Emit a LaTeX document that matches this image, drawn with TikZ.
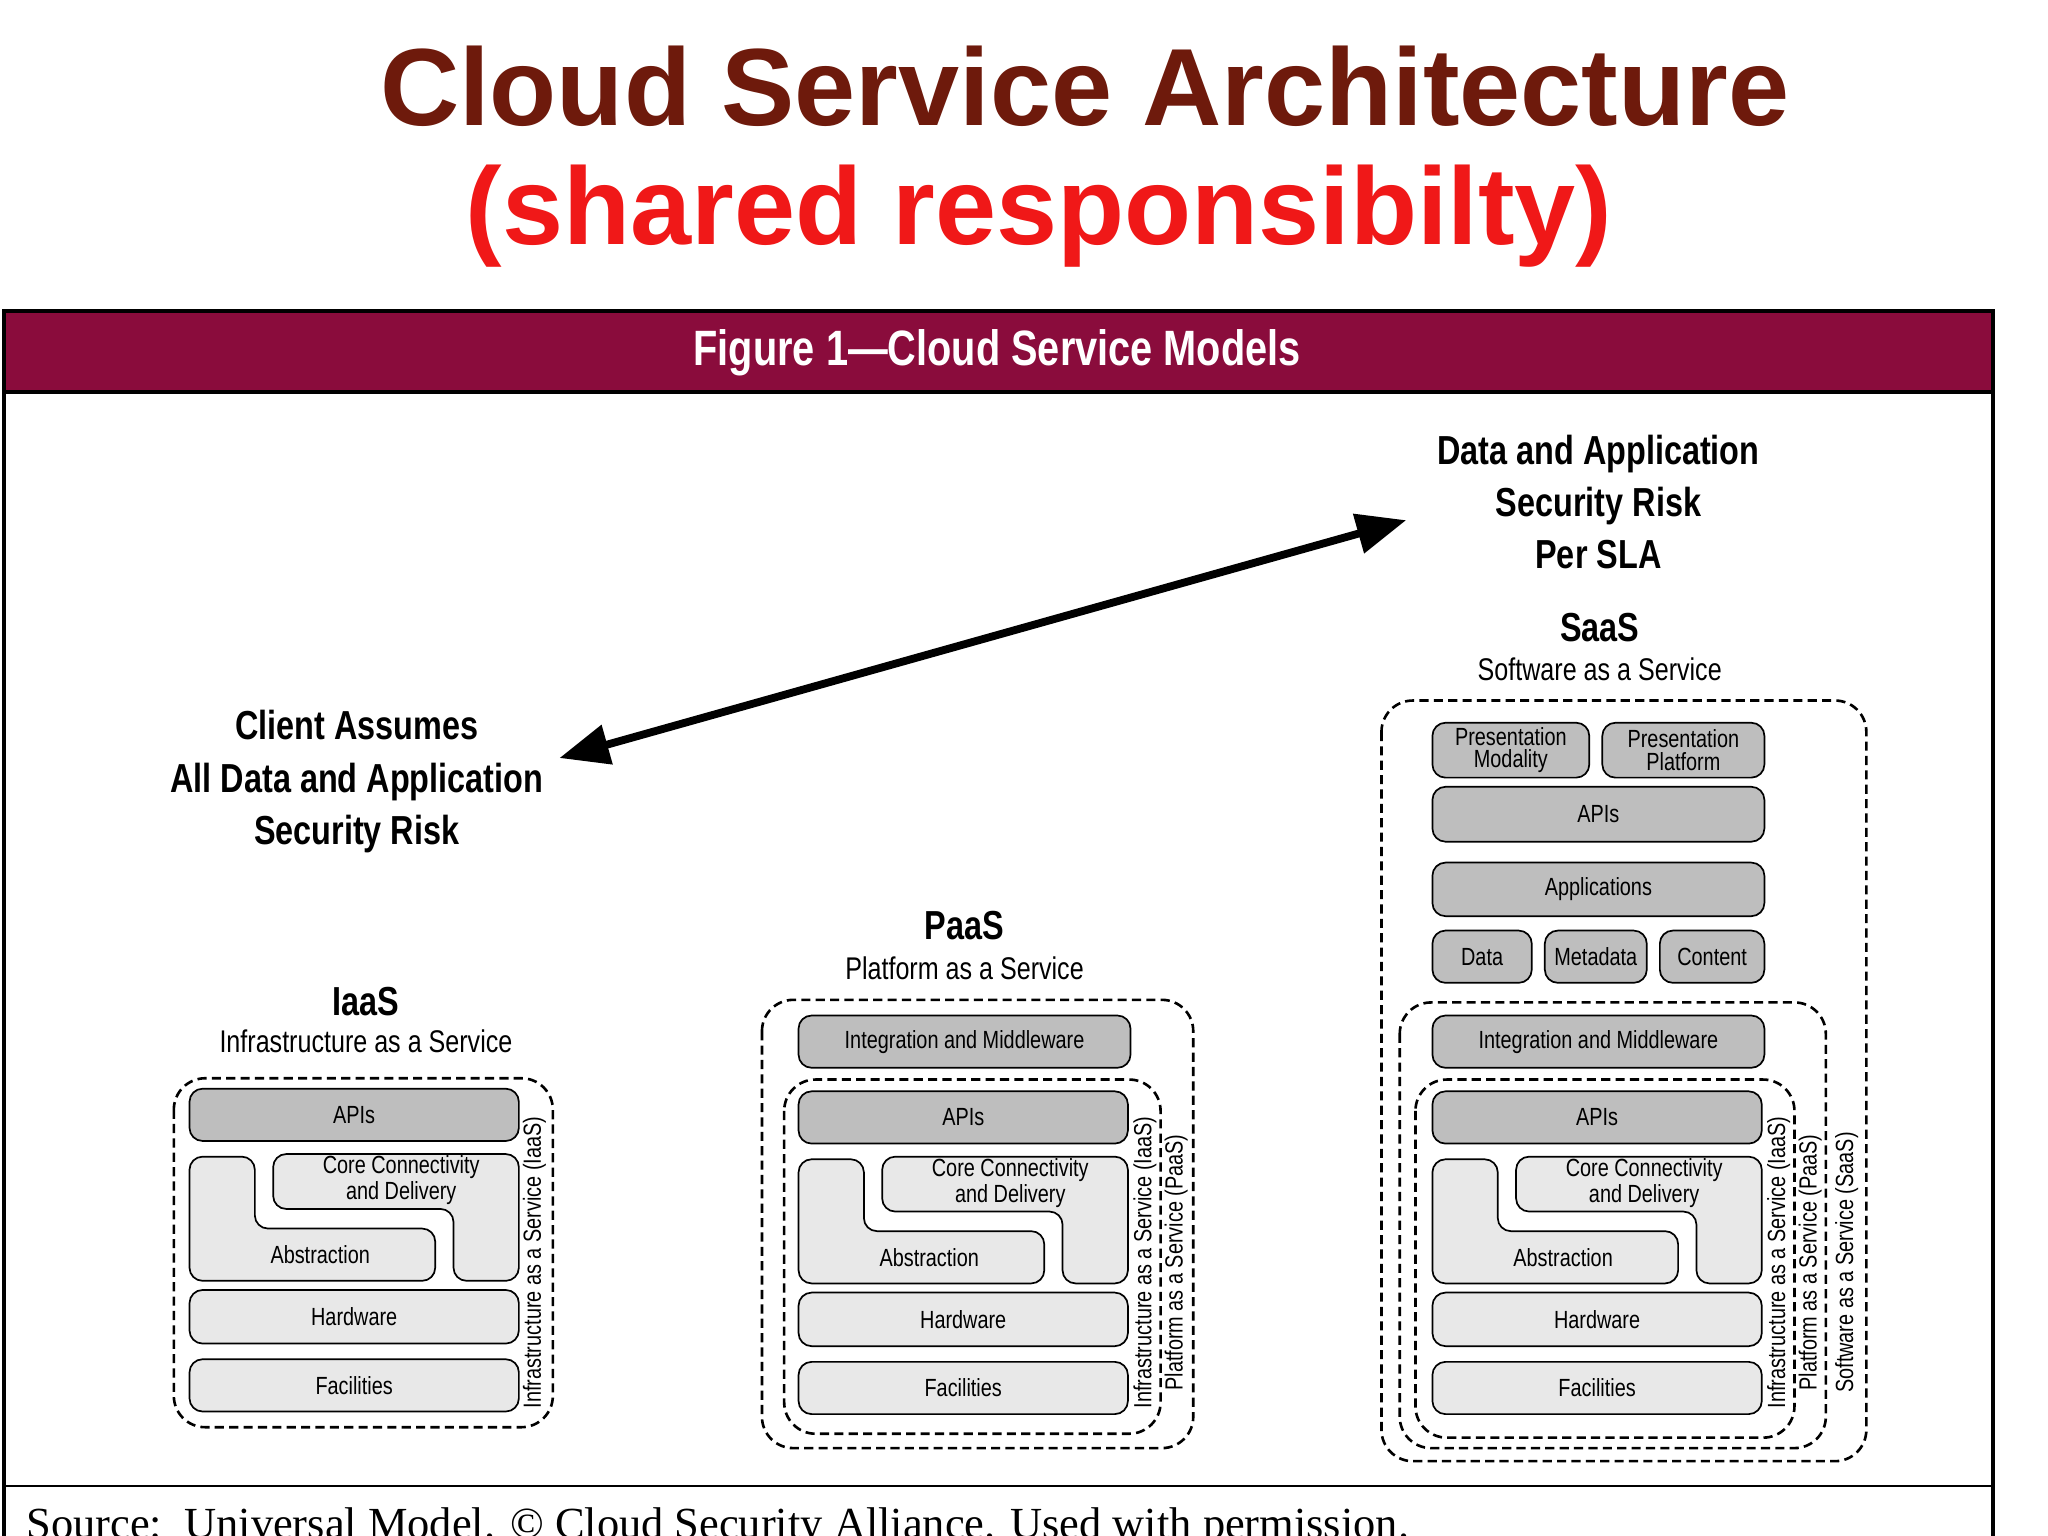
\documentclass[tikz,border=0pt]{standalone}
\usepackage{fontspec}
\setmainfont{Liberation Sans}
\newfontfamily\cond{Liberation Sans}[FakeStretch=0.8]
\newfontfamily\serf{Liberation Serif}
\usetikzlibrary{arrows.meta}
\definecolor{ttlred}{HTML}{6E1A0C}
\definecolor{brred}{HTML}{F01818}
\definecolor{maroon}{HTML}{8A0C3C}
\definecolor{darkg}{HTML}{BEBEBE}
\definecolor{lightg}{HTML}{E8E8E8}
\newcommand\boxf{\cond\fontsize{19}{20}\selectfont}
\tikzset{
 lb/.style={draw, rounded corners=10pt, fill=lightg, line width=1.3pt, font=\boxf, inner sep=0pt, align=center},
 db/.style={lb, fill=darkg},
 dsh/.style={draw, dash pattern=on 7pt off 4pt, line width=2pt, rounded corners=24pt},
 rl/.style={rotate=90, font=\boxf},
 big/.style={font=\cond\bfseries\fontsize{31}{40}\selectfont, align=center},
 sub/.style={font=\cond\fontsize{24}{28}\selectfont},
}
\newcommand\bx[7]{\node[#2, minimum width={(#5-#3)*1pt}, minimum height={(#6-#4)*1pt}] (#1) at ({(#3+#5)/2},{(#4+#6)/2}) {#7};}
\newcommand\stk[3]{%
\begin{scope}[shift={(#2,#3)}]
\bx{#1api}{db}{145}{833}{397}{873}{APIs}
\draw[lb] (145,885) -- (195,885) -- (195,940) -- (333,940) -- (333,980) -- (145,980) -- cycle;
\node[font=\boxf] (#1abs) at (245,960) {Abstraction};
\draw[lb] (209,883) -- (397,883) -- (397,980) -- (347,980) -- (347,925) -- (209,925) -- cycle;
\node[font=\boxf, align=center, inner sep=0pt] (#1core) at (307,903) {Core Connectivity\\and Delivery};
\bx{#1hw}{lb}{145}{987}{397}{1028}{Hardware}
\bx{#1fac}{lb}{145}{1040}{397}{1080}{Facilities}
\end{scope}}
\begin{document}
\begin{tikzpicture}[x=1pt,y=-1pt]
\useasboundingbox (0,0) rectangle (1567,1174.5);
\clip (0,0) rectangle (1567,1174.5);
\fill[white] (0,0) rectangle (1567,1174.5);
\node[font=\bfseries\fontsize{84}{90}\selectfont, text=ttlred] (t1) at (830,66) {Cloud Service Architecture};
\node[font=\bfseries\fontsize{84}{90}\selectfont, text=brred] (t2) at (795,165) {(shared responsibilty)};
% figure frame
\fill[maroon] (3,238) rectangle (1525,300);
\draw[line width=3pt] (3,238) rectangle (1525,1200);
\draw[line width=3pt] (3,300) -- (1525,300);
\draw[line width=2pt] (3,1137) -- (1525,1137);
\node[text=white, font=\cond\bfseries\fontsize{38}{40}\selectfont] (hdr) at (763,270) {Figure 1\textemdash Cloud Service Models};
\node[font=\serf\fontsize{34}{40}\selectfont, anchor=north west, inner sep=0pt] (src) at (20,1153) {Source:\ \ Universal Model. \textcopyright\ Cloud Security Alliance. Used with permission.};
% labels
\node[big] (dar) at (1223,384) {Data and Application\\Security Risk\\Per SLA};
\node[big] (cli) at (273,598) {Client Assumes\\All Data and Application\\Security Risk};
\coordinate (a1) at (428,580);
\coordinate (a2) at (1076,398);
\draw[line width=6pt, {Triangle[length=38pt,width=30pt]}-{Triangle[length=38pt,width=30pt]}] (a1) -- (a2);
\node[big] (saas) at (1224,480) {SaaS};
\node[sub] (saass) at (1224,512) {Software as a Service};
\node[big] (paas) at (738,708) {PaaS};
\node[sub] (paass) at (738,741) {Platform as a Service};
\node[big] (iaas) at (280,766) {IaaS};
\node[sub] (iaass) at (280,797) {Infrastructure as a Service};
% IaaS
\draw[dsh] (133,825) rectangle (423,1092);
\stk{i}{0}{0}
\node[rl] (il) at (409,966) {Infrastructure as a Service (IaaS)};
% PaaS
\draw[dsh] (583,765) rectangle (913,1108);
\draw[dsh] (600,826) rectangle (888,1097);
\bx{pint}{db}{611}{777}{865}{817}{Integration and Middleware}
\stk{p}{466}{2}
\node[rl] (pl1) at (876,966) {Infrastructure as a Service (IaaS)};
\node[rl] (pl2) at (900,966) {Platform as a Service (PaaS)};
% SaaS
\draw[dsh] (1057,536) rectangle (1428,1118);
\draw[dsh] (1071,767) rectangle (1397,1108);
\draw[dsh] (1083,826) rectangle (1373,1100);
\bx{spm}{db}{1096}{553}{1216}{595}{Presentation\\[-3pt]Modality}
\bx{spp}{db}{1226}{553}{1350}{595}{Presentation\\[-3pt]Platform}
\bx{sapi}{db}{1096}{602}{1350}{644}{APIs}
\bx{sapp}{db}{1096}{660}{1350}{701}{Applications}
\bx{sdat}{db}{1096}{712}{1172}{752}{Data}
\bx{smet}{db}{1182}{712}{1260}{752}{Metadata}
\bx{scon}{db}{1270}{712}{1350}{752}{Content}
\bx{sint}{db}{1096}{777}{1350}{817}{Integration and Middleware}
\stk{s}{951}{2}
\node[rl] (sl1) at (1361,966) {Infrastructure as a Service (IaaS)};
\node[rl] (sl2) at (1385,966) {Platform as a Service (PaaS)};
\node[rl] (sl3) at (1413,966) {Software as a Service (SaaS)};
\end{tikzpicture}
\end{document}
